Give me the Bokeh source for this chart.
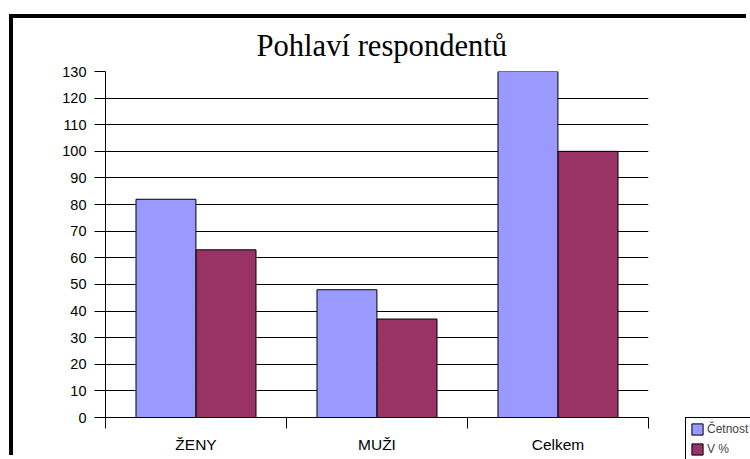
from bokeh.plotting import figure
from bokeh.models import ColumnDataSource, Range1d, FixedTicker, Legend, LegendItem
from bokeh.transform import dodge
from bokeh.embed import file_html
from bokeh.resources import INLINE

# ---- data ----
categories = ["ŽENY", "MUŽI", "Celkem"]
cetnost = [82, 48, 130]
v_procent = [63, 37, 100]
y_ticks = [0, 10, 20, 30, 40, 50, 60, 70, 80, 90, 100, 110, 120, 130]
series_names = ["Četnost", "V %"]
series_colors = ["#9999FF", "#993366"]
title_text = "Pohlaví respondentů"

centers = [i + 0.5 for i in range(len(categories))]
bounds = [i for i in range(len(categories) + 1)]

src = ColumnDataSource(dict(x=centers, cat=categories, c=cetnost, v=v_procent))

p = figure(width=737, height=441, output_backend="svg", toolbar_location=None,
           x_range=Range1d(0, len(categories)), y_range=Range1d(y_ticks[0], y_ticks[-1]),
           min_border_left=92, min_border_right=102, min_border_top=52, min_border_bottom=42)
p.styles = {"border-left": "4px solid black", "border-top": "4px solid black",
            "margin-left": "9px", "margin-top": "14px"}

p.outline_line_color = None
p.background_fill_color = "white"
p.border_fill_color = "white"

r1 = p.vbar(x=dodge("x", -0.166), top="c", width=0.331, source=src,
            fill_color=series_colors[0], line_color="#000000", line_width=1)
r2 = p.vbar(x=dodge("x", 0.166), top="v", width=0.331, source=src,
            fill_color=series_colors[1], line_color="#000000", line_width=1)

# title
p.title.text = title_text
p.title.text_font = "Liberation Serif"
p.title.text_font_size = "30.6px"
p.title.text_font_style = "normal"
p.title.text_color = "black"
p.title.align = "left"
p.title.offset = 151
p.title.standoff = 17

# y axis
p.yaxis.ticker = FixedTicker(ticks=y_ticks)
p.yaxis.major_tick_out = 11
p.yaxis.major_tick_in = 0
p.yaxis.minor_tick_line_color = None
p.yaxis.major_label_standoff = 8
p.yaxis.major_label_text_font = "Liberation Sans"
p.yaxis.major_label_text_font_size = "14.5px"
p.yaxis.major_label_text_color = "black"
p.yaxis.axis_line_color = "black"
p.yaxis.major_tick_line_color = "black"

# x axis: labels at centers, ticks at category boundaries
p.xaxis.ticker = FixedTicker(ticks=centers, minor_ticks=bounds)
p.xaxis.major_label_overrides = {c: lab for c, lab in zip(centers, categories)}
p.xaxis.major_tick_line_color = None
p.xaxis.major_tick_out = 0
p.xaxis.major_tick_in = 0
p.xaxis.minor_tick_out = 11
p.xaxis.minor_tick_in = 0
p.xaxis.minor_tick_line_color = "black"
p.xaxis.axis_line_color = "black"
p.xaxis.major_label_standoff = 7
p.xaxis.major_label_text_font = "Liberation Sans"
p.xaxis.major_label_text_font_size = "15.5px"
p.xaxis.major_label_text_color = "black"

# grid
p.xgrid.visible = False
p.ygrid.ticker = FixedTicker(ticks=y_ticks)
p.ygrid.grid_line_color = "black"
p.ygrid.grid_line_width = 1

# ---- legend (separate small svg figure placed at the bottom right) ----
# its x range lies away from the data so only the legend shows
lf = figure(width=65, height=42, output_backend="svg", toolbar_location=None,
            x_range=Range1d(100, 101), y_range=Range1d(0, 1), min_border=0)
lf.styles = {"position": "absolute", "left": "685px", "top": "417px"}
lf.xaxis.visible = False
lf.yaxis.visible = False
lf.grid.visible = False
lf.outline_line_color = None
lf.border_fill_color = "white"
lf.background_fill_color = "white"
lr1 = lf.vbar(x="x", top="c", width=0.331, source=src,
              fill_color=series_colors[0], line_color="#000000", line_width=1)
lr2 = lf.vbar(x="x", top="v", width=0.331, source=src,
              fill_color=series_colors[1], line_color="#000000", line_width=1)
legend = Legend(items=[LegendItem(label=series_names[0], renderers=[lr1]),
                       LegendItem(label=series_names[1], renderers=[lr2])],
                location="top_left", orientation="vertical",
                label_text_font="Liberation Sans", label_text_font_size="12px",
                glyph_width=14, glyph_height=14, label_height=12, label_standoff=3,
                spacing=6, padding=4, margin=0,
                border_line_color="black", border_line_width=1, border_line_alpha=1,
                background_fill_color="white", background_fill_alpha=1)
lf.add_layout(legend, "center")

open("out.html", "w").write(file_html([p, lf], INLINE))
